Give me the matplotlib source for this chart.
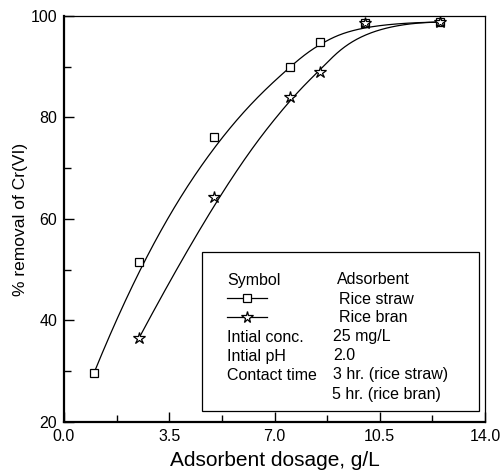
import numpy as np
import matplotlib
matplotlib.use("Agg")
import matplotlib.pyplot as plt
from matplotlib.lines import Line2D

plt.rcParams['font.family'] = ['Liberation Sans', 'DejaVu Sans']

straw_x = [1.0, 2.5, 5.0, 7.5, 8.5, 10.0, 12.5]
straw_y = [29.7, 51.5, 76.2, 90.0, 94.9, 98.6, 98.8]
bran_x = [2.5, 5.0, 7.5, 8.5, 10.0, 12.5]
bran_y = [36.6, 64.3, 84.0, 89.0, 98.6, 98.8]

xticks = [0.0, 3.5, 7.0, 10.5, 14.0]
yticks = [20, 40, 60, 80, 100]


def bspline(px, py, num=400, k=3):
    """Clamped B-spline using the data points as control points (Origin 'B-Spline' connect)."""
    P = np.column_stack([px, py]).astype(float)
    n = len(P)
    k = min(k, n - 1)
    inner = np.arange(1, n - k)
    t = np.concatenate([np.zeros(k + 1), inner, np.full(k + 1, n - k)]).astype(float)
    us = np.linspace(0, n - k, num)
    us[-1] -= 1e-9
    out = []
    for u in us:
        N = np.array([1.0 if (t[i] <= u < t[i + 1]) else 0.0 for i in range(len(t) - 1)])
        for d in range(1, k + 1):
            Nn = np.zeros(len(t) - 1 - d)
            for i in range(len(Nn)):
                a = 0.0 if t[i + d] == t[i] else (u - t[i]) / (t[i + d] - t[i]) * N[i]
                b = 0.0 if t[i + d + 1] == t[i + 1] else (t[i + d + 1] - u) / (t[i + d + 1] - t[i + 1]) * N[i + 1]
                Nn[i] = a + b
            N = Nn
        out.append(N @ P)
    out = np.array(out)
    return out[:, 0], out[:, 1]


fig = plt.figure(figsize=(5.02, 4.72), dpi=100)
ax = fig.add_axes([64 / 502, 1 - 422 / 472, (485 - 64) / 502, (422 - 16) / 472])

cx, cy = bspline(straw_x, straw_y)
ax.plot(cx, cy, color='black', lw=0.9)
cx, cy = bspline(bran_x, bran_y)
ax.plot(cx, cy, color='black', lw=0.9)
ax.plot(straw_x, straw_y, ls='none', marker='s', ms=5.5, mfc='white', mec='black', mew=0.9)
ax.plot(bran_x, bran_y, ls='none', marker='*', ms=9, mfc='white', mec='black', mew=0.9)

ax.set_xlim(0, 14)
ax.set_ylim(20, 100)
ax.set_xticks(xticks)
ax.set_xticklabels([f"{v:.1f}" for v in xticks])
ax.set_yticks(yticks)
ax.set_xticks([1.75, 5.25, 8.75, 12.25], minor=True)
ax.set_yticks([30, 50, 70, 90], minor=True)
ax.tick_params(which='both', direction='in', top=False, right=False, labelsize=11.5, width=1)
ax.tick_params(which='major', length=7, pad=5)
ax.tick_params(which='minor', length=5)
for s in ['left', 'bottom']:
    ax.spines[s].set_linewidth(1.6)
for s in ['top', 'right']:
    ax.spines[s].set_linewidth(0.9)

ax.set_xlabel('Adsorbent dosage, g/L', fontsize=15, labelpad=5)
ax.set_ylabel('% removal of Cr(VI)', fontsize=12.5, labelpad=2)


def fx(px):
    return px / 502


def fy(py):
    return 1 - py / 472


box = plt.Rectangle((fx(202), fy(411)), fx(479) - fx(202), fy(252) - fy(411),
                    transform=fig.transFigure, fill=False, lw=0.9, ec='black')
fig.add_artist(box)
rows = [('Symbol', 'Adsorbent', 337),
        (None, 'Rice straw', 339),
        (None, 'Rice bran', 339),
        ('Intial conc.', '25 mg/L', 333),
        ('Intial pH', '2.0', 333),
        ('Contact time', '3 hr. (rice straw)', 333),
        ('', '5 hr. (rice bran)', 332)]
y0 = 279
for i, (a, b, bx) in enumerate(rows):
    yy = y0 + i * 19 + 5.5
    if a:
        fig.text(fx(227), fy(yy), a, fontsize=11.5, va='baseline', ha='left')
    fig.text(fx(bx), fy(yy), b, fontsize=11.5, va='baseline', ha='left')
for i, (mk, ms) in enumerate([('s', 5.5), ('*', 8.5)]):
    yy = y0 + (i + 1) * 19
    fig.add_artist(Line2D([fx(227), fx(267)], [fy(yy), fy(yy)], transform=fig.transFigure,
                          color='black', lw=0.9))
    fig.add_artist(Line2D([fx(247)], [fy(yy)], transform=fig.transFigure, ls='none',
                          marker=mk, ms=ms, mfc='white', mec='black', mew=0.9))

fig.savefig('out.png', dpi=100)
